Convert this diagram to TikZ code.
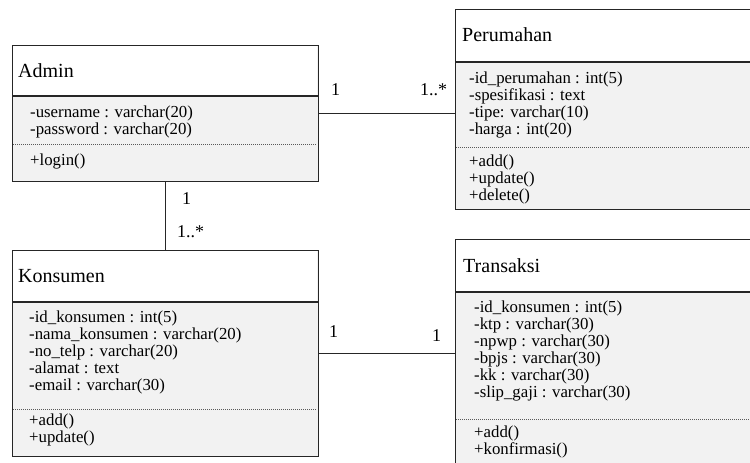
\documentclass[tikz,border=0pt]{standalone}
\usepackage{fontspec}
\setmainfont{Liberation Serif}
\begin{document}
\begin{tikzpicture}[x=1pt,y=-1pt,
  classbox/.style={draw=black!85, line width=1.2pt, fill=gray!10, anchor=north west, inner sep=0pt},
  headfill/.style={fill=white},
  rule/.style={draw=black!85, line width=1.2pt},
  dots/.style={draw=black!65, line width=0.8pt, dash pattern=on 1pt off 1pt},
  title/.style={anchor=base west, inner sep=0pt, font=\fontsize{20}{24}\selectfont},
  member/.style={anchor=base west, inner sep=0pt, font=\fontsize{16.8}{17}\selectfont},
  mult/.style={anchor=base west, inner sep=0pt, font=\fontsize{18}{20}\selectfont},
  assoc/.style={draw=black!85, line width=1.2pt}]
\useasboundingbox (0,0) rectangle (750,463);
\clip (0,0) rectangle (750,463);

% ---------- Admin ----------
\node[classbox, minimum width=306pt, minimum height=136pt] (admin) at (12,45) {};
\fill[headfill] (12.6,45.6) rectangle (317.4,96);
\draw[rule] (12,96) -- (318,96);
\draw[dots] (13,144) -- (317,144);
\node[title]  (admin-t)  at (18,77)  {Admin};
\node[member] (admin-a1) at (30,117) {-username : varchar(20)};
\node[member] (admin-a2) at (30,134) {-password : varchar(20)};
\node[member] (admin-m1) at (30,165) {+login()};

% ---------- Perumahan ----------
\node[classbox, minimum width=310pt, minimum height=200pt] (perumahan) at (455,9) {};
\fill[headfill] (455.6,9.6) rectangle (764.4,62);
\draw[rule] (455,62) -- (765,62);
\draw[dots] (456,147) -- (764,147);
\node[title]  (per-t)  at (462,41)  {Perumahan};
\node[member] (per-a1) at (469,83)  {-id\_perumahan : int(5)};
\node[member] (per-a2) at (469,100) {-spesifikasi : text};
\node[member] (per-a3) at (469,117) {-tipe: varchar(10)};
\node[member] (per-a4) at (469,134) {-harga : int(20)};
\node[member] (per-m1) at (469,166) {+add()};
\node[member] (per-m2) at (469,183) {+update()};
\node[member] (per-m3) at (469,200) {+delete()};

% ---------- Konsumen ----------
\node[classbox, minimum width=306pt, minimum height=206pt] (konsumen) at (12,250) {};
\fill[headfill] (12.6,250.6) rectangle (317.4,302);
\draw[rule] (12,302) -- (318,302);
\draw[dots] (13,409) -- (317,409);
\node[title]  (kon-t)  at (18,282)  {Konsumen};
\node[member] (kon-a1) at (29,322)  {-id\_konsumen : int(5)};
\node[member] (kon-a2) at (29,339)  {-nama\_konsumen : varchar(20)};
\node[member] (kon-a3) at (29,356)  {-no\_telp : varchar(20)};
\node[member] (kon-a4) at (29,373)  {-alamat : text};
\node[member] (kon-a5) at (29,390)  {-email : varchar(30)};
\node[member] (kon-m1) at (29,425)  {+add()};
\node[member] (kon-m2) at (29,442)  {+update()};

% ---------- Transaksi ----------
\node[classbox, minimum width=310pt, minimum height=240pt] (transaksi) at (455,239) {};
\fill[headfill] (455.6,239.6) rectangle (764.4,292);
\draw[rule] (455,292) -- (765,292);
\draw[dots] (456,419) -- (764,419);
\node[title]  (tra-t)  at (463,272)  {Transaksi};
\node[member] (tra-a1) at (474,312)  {-id\_konsumen : int(5)};
\node[member] (tra-a2) at (474,329)  {-ktp : varchar(30)};
\node[member] (tra-a3) at (474,346)  {-npwp : varchar(30)};
\node[member] (tra-a4) at (474,363)  {-bpjs : varchar(30)};
\node[member] (tra-a5) at (474,380)  {-kk : varchar(30)};
\node[member] (tra-a6) at (474,397)  {-slip\_gaji : varchar(30)};
\node[member] (tra-m1) at (474,437)  {+add()};
\node[member] (tra-m2) at (474,454)  {+konfirmasi()};

% ---------- Associations ----------
\draw[assoc] (admin.east) -- (admin.east -| perumahan.west);
\draw[assoc] (admin.south) -- (admin.south |- konsumen.north);
\draw[assoc] (konsumen.east) -- (konsumen.east -| transaksi.west);

% ---------- Multiplicities ----------
\node[mult] (m-ap1) at (331,95)  {1};
\node[mult] (m-ap2) at (420,95)  {1..*};
\node[mult] (m-ak1) at (182,204) {1};
\node[mult] (m-ak2) at (177,237) {1..*};
\node[mult] (m-kt1) at (329,337) {1};
\node[mult] (m-kt2) at (432,341) {1};
\end{tikzpicture}
\end{document}
